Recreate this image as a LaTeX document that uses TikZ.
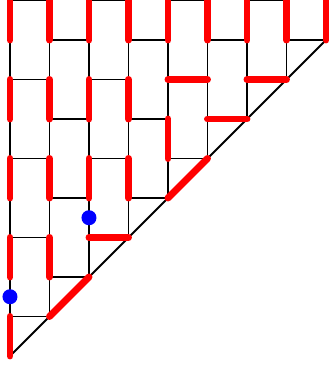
\documentclass[tikz,border=0pt]{standalone}
\usepackage{tikz}
\usetikzlibrary{calc}
\definecolor{ink}{HTML}{000000}
\definecolor{dimer}{HTML}{FF0000}
\definecolor{hole}{HTML}{0000FF}
\definecolor{dot}{HTML}{6E6E6E}

\begin{document}
\begin{tikzpicture}[x=1cm,y=1cm,
  lat/.style={ink,line width=1.35pt},
  dim/.style={dimer,line width=5pt,line cap=round},
  hole/.style={circle,fill=hole,inner sep=0pt,minimum size=0.38cm}]
\useasboundingbox (-0.253,-0.304) rectangle (8.101,9.013);
\clip (-0.253,-0.304) rectangle (8.101,9.013);
% lattice sites on and above the diagonal
\foreach \i in {0,...,8}{
  \foreach \j in {\i,...,9}{\coordinate (v\i-\j) at (\i,\j);}}
% vertical bonds
\foreach \i in {0,...,8}{
  \foreach \j [evaluate=\j as \k using int(\j+1)] in {\i,...,8}{
    \draw[lat] (v\i-\j) -- (v\i-\k);}}
% horizontal bonds, brick pattern
\foreach \i [evaluate=\i as \n using int(\i+1)] in {0,...,7}{
  \foreach \j in {\n,...,9}{
    \pgfmathtruncatemacro{\parity}{mod(\i+\j,2)}
    \ifnum\parity=1 \draw[lat] (v\i-\j) -- (v\n-\j);\fi}}
% diagonal boundary
\foreach \i [evaluate=\i as \n using int(\i+1)] in {0,...,7}{
  \draw[lat] (v\i-\i) -- (v\n-\n);}
% site marks
\foreach \i in {0,...,8}{
  \foreach \j in {\i,...,9}{\fill[dot] (v\i-\j) circle (0.045);}}
% dimers
\foreach \i in {0,...,8}{\draw[dim] (v\i-8) -- (v\i-9);}
\foreach \a/\b in {v0-0/v0-1,v0-2/v0-3,v0-4/v0-5,v0-6/v0-7,
  v1-2/v1-3,v1-4/v1-5,v1-6/v1-7,v2-4/v2-5,v2-6/v2-7,
  v3-4/v3-5,v3-6/v3-7,v4-5/v4-6,
  v2-3/v3-3,v4-7/v5-7,v5-6/v6-6,v6-7/v7-7,
  v1-1/v2-2,v4-4/v5-5}{\draw[dim] (\a) -- (\b);}
% holes
\node[hole] (h1) at ($(v0-1)!0.5!(v0-2)$) {};
\node[hole] (h2) at ($(v2-3)!0.5!(v2-4)$) {};
\end{tikzpicture}
\end{document}
